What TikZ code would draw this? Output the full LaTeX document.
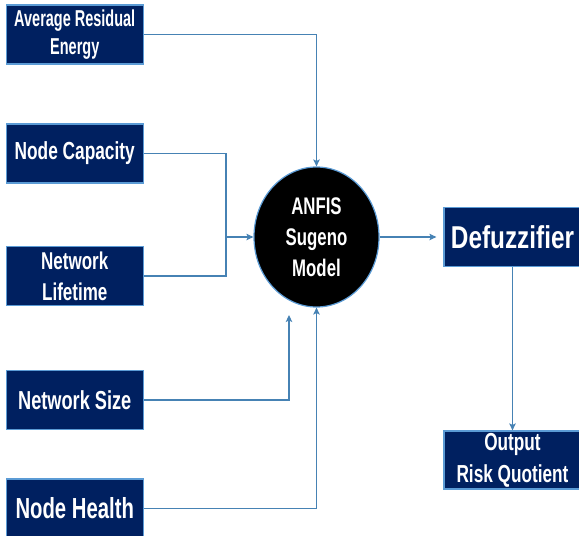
\documentclass[tikz,border=0pt]{standalone}
\usepackage{fontspec}
\usetikzlibrary{shapes.geometric,arrows.meta}
\newfontfamily\nfA[FakeStretch=0.63]{Liberation Sans}
\newfontfamily\nfB[FakeStretch=0.7]{Liberation Sans}
\newfontfamily\nfC[FakeStretch=0.77]{Liberation Sans}
\definecolor{navy}{RGB}{0,32,96}
\definecolor{edgeblue}{RGB}{91,155,213}
\definecolor{arrowblue}{RGB}{70,130,180}
\begin{document}
\begin{tikzpicture}[x=1pt,y=-1pt,
  box/.style={draw=edgeblue, line width=1.2pt, fill=navy, text=white, align=center,
    inner sep=0pt, minimum width=137pt, minimum height=59pt},
  conn/.style={draw=arrowblue, line width=1.1pt},
  arr/.style={conn, -{Stealth[length=7pt,width=6.5pt,inset=1.5pt]}}]
\useasboundingbox (0,0) rectangle (579,536);
\clip (0,0) rectangle (579,536);

\node[box, font={\nfA\bfseries\fontsize{23}{28}\selectfont}] (b1) at (74.75,34.5) {Average Residual\\Energy};
\node[box, font={\nfB\bfseries\fontsize{24.7}{30}\selectfont}] (b2) at (74.75,153.5) {Node Capacity};
\node[box, font={\nfB\bfseries\fontsize{24.3}{30.7}\selectfont}] (b3) at (74.75,276) {Network\\Lifetime};
\node[box, font={\nfB\bfseries\fontsize{26}{30}\selectfont}] (b4) at (74.75,400) {Network Size};
\node[box, font={\nfB\bfseries\fontsize{29}{34}\selectfont}] (b5) at (74.75,508.5) {Node Health};

\node[ellipse, draw=edgeblue, line width=1.2pt, fill=black, text=white, align=center,
  minimum width=125pt, minimum height=140pt, inner sep=0pt,
  font={\nfB\bfseries\fontsize{24}{31}\selectfont}] (anfis) at (316.5,237) {ANFIS\\Sugeno\\Model};

\node[box, font={\nfC\bfseries\fontsize{31.6}{36}\selectfont}] (defuzz) at (512.5,237) {Defuzzifier};
\node[box, minimum height=58pt, font={\nfB\bfseries\fontsize{24.6}{32}\selectfont}] (out) at (512.5,460) {Output\\Risk Quotient};

\coordinate (j) at (226,237);
\coordinate (n4end) at (289,315);

\draw[arr] (b1.east) -| (anfis.north);
\draw[conn] (b2.east) -| (j);
\draw[conn] (b3.east) -| (j);
\draw[arr] (j) -- (anfis.west);
\draw[arr] (b4.east) -| (n4end);
\draw[arr] (b5.east) -| (anfis.south);
\draw[arr, shorten >=7pt] (anfis.east) -- (defuzz.west);
\draw[arr] (defuzz.south) -- (out.north);
\end{tikzpicture}
\end{document}
